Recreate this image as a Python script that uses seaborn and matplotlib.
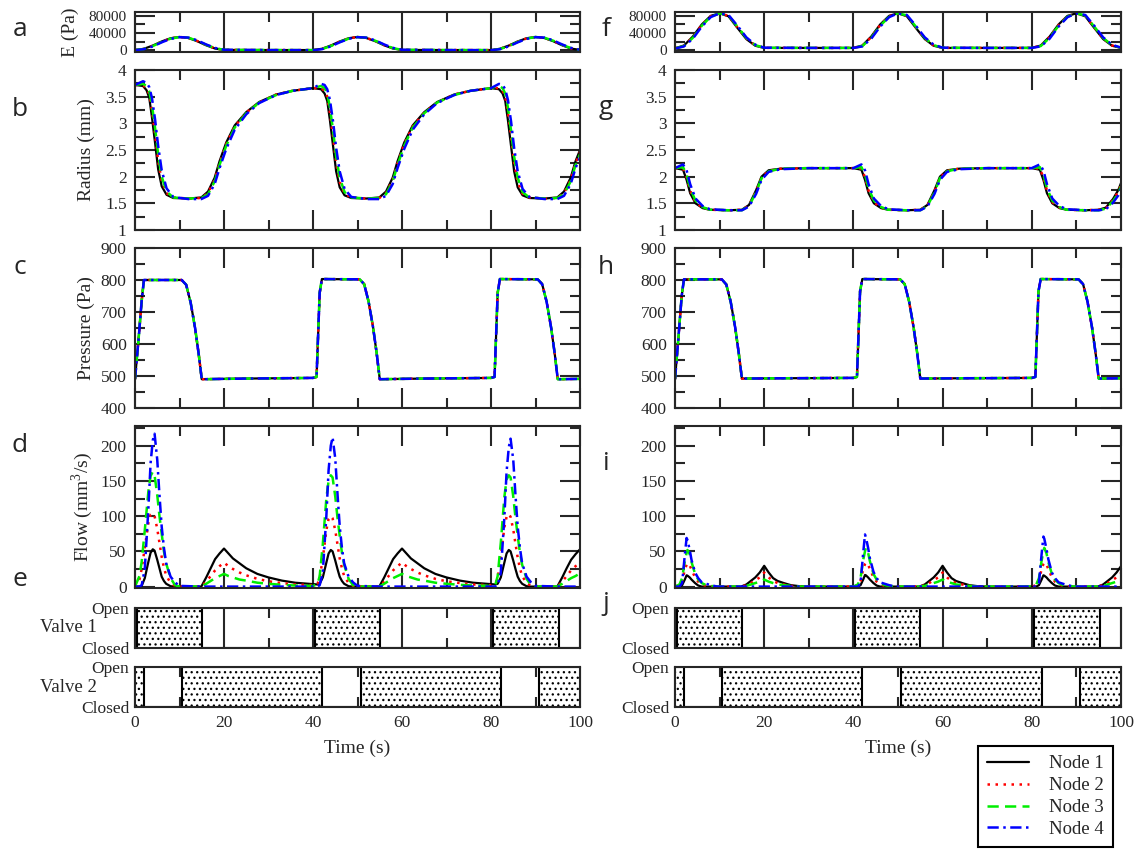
import matplotlib
matplotlib.use("Agg")
import matplotlib.pyplot as plt
from matplotlib.lines import Line2D
from matplotlib.ticker import MultipleLocator, FormatStrFormatter
import seaborn as sns

# -------------------
# Data (time in s)
# -------------------
nodes = ["Node 1", "Node 2", "Node 3", "Node 4"]

# E (Pa)
t_E = [0, 2, 4, 6, 8, 10, 12, 14, 16, 18, 20, 30,
       40, 42, 44, 46, 48, 50, 52, 54, 56, 58, 60, 70,
       80, 82, 84, 86, 88, 90, 92, 94, 96, 98, 100]
E_left_1 = [500, 3500, 11000, 20500, 28000, 31000, 28500, 21000, 11500, 4000, 800, 500,
            500, 3500, 11000, 20500, 28000, 31000, 28500, 21000, 11500, 4000, 800, 500,
            500, 3500, 11000, 20500, 28000, 31000, 28500, 21000, 11500, 4000, 800]
E_left_2 = [450, 3200, 10400, 19900, 27600, 31000, 28800, 21600, 12100, 4400, 900, 500,
            450, 3200, 10400, 19900, 27600, 31000, 28800, 21600, 12100, 4400, 900, 500,
            450, 3200, 10400, 19900, 27600, 31000, 28800, 21600, 12100, 4400, 900]
E_left_3 = [400, 2900, 9800, 19300, 27100, 30800, 29100, 22200, 12700, 4900, 1000, 500,
            400, 2900, 9800, 19300, 27100, 30800, 29100, 22200, 12700, 4900, 1000, 500,
            400, 2900, 9800, 19300, 27100, 30800, 29100, 22200, 12700, 4900, 1000]
E_left_4 = [300, 2500, 9000, 18500, 26500, 30500, 29500, 23000, 13500, 5500, 1200, 500,
            300, 2500, 9000, 18500, 26500, 30500, 29500, 23000, 13500, 5500, 1200, 500,
            300, 2500, 9000, 18500, 26500, 30500, 29500, 23000, 13500, 5500, 1200]
E_right_1 = [4500, 11000, 32000, 60000, 80000, 86000, 79000, 52000, 26000, 10500, 5500, 5500,
             5500, 11000, 32000, 60000, 80000, 86000, 79000, 52000, 26000, 10500, 5500, 5500,
             5500, 11000, 32000, 60000, 80000, 86000, 79000, 52000, 26000, 10500, 5500]
E_right_2 = [4400, 10500, 30500, 58500, 79000, 86000, 80000, 53500, 27500, 11200, 5600, 5500,
             5500, 10500, 30500, 58500, 79000, 86000, 80000, 53500, 27500, 11200, 5600, 5500,
             5500, 10500, 30500, 58500, 79000, 86000, 80000, 53500, 27500, 11200, 5600]
E_right_3 = [4200, 9800, 29000, 57000, 78000, 86000, 81000, 55000, 28500, 12000, 5800, 5500,
             5500, 9800, 29000, 57000, 78000, 86000, 81000, 55000, 28500, 12000, 5800, 5500,
             5500, 9800, 29000, 57000, 78000, 86000, 81000, 55000, 28500, 12000, 5800]
E_right_4 = [4000, 9000, 27000, 55000, 77000, 86000, 82000, 57000, 30000, 13000, 6000, 5500,
             5500, 9000, 27000, 55000, 77000, 86000, 82000, 57000, 30000, 13000, 6000, 5500,
             5500, 9000, 27000, 55000, 77000, 86000, 82000, 57000, 30000, 13000, 6000]

# Radius (mm)
t_R_left = [0, 1.8, 2.6, 3.2, 3.8, 4.5, 5.2, 6.0, 7.1, 8.6, 12, 14.9, 16.4, 17.9, 19.0, 20.5, 22.4, 25, 27.9, 31.7, 35.4,
            40, 41.8, 42.6, 43.2, 43.8, 44.5, 45.2, 46.0, 47.1, 48.6, 52, 54.9, 56.4, 57.9, 59.0, 60.5, 62.4, 65, 67.9, 71.7, 75.4,
            80, 81.8, 82.6, 83.2, 83.8, 84.5, 85.2, 86.0, 87.1, 88.6, 92, 94.9, 96.4, 97.9, 99.0, 100]
R_left_1 = [3.72, 3.70, 3.62, 3.48, 3.12, 2.64, 2.14, 1.82, 1.66, 1.60, 1.59, 1.61, 1.72, 1.98, 2.29, 2.64, 2.96, 3.21, 3.40, 3.54, 3.61,
            3.66, 3.64, 3.56, 3.42, 3.06, 2.58, 2.10, 1.80, 1.65, 1.60, 1.59, 1.61, 1.72, 1.98, 2.29, 2.64, 2.96, 3.21, 3.40, 3.54, 3.61,
            3.66, 3.64, 3.56, 3.42, 3.06, 2.58, 2.10, 1.80, 1.65, 1.60, 1.59, 1.61, 1.72, 1.98, 2.29, 2.50]
R_left_2 = [3.72, 3.71, 3.66, 3.55, 3.25, 2.80, 2.30, 1.92, 1.69, 1.61, 1.59, 1.60, 1.69, 1.94, 2.25, 2.61, 2.94, 3.20, 3.39, 3.54, 3.61,
            3.66, 3.66, 3.61, 3.50, 3.20, 2.75, 2.26, 1.90, 1.68, 1.61, 1.59, 1.60, 1.69, 1.94, 2.25, 2.61, 2.94, 3.20, 3.39, 3.54, 3.61,
            3.66, 3.66, 3.61, 3.50, 3.20, 2.75, 2.26, 1.90, 1.68, 1.61, 1.59, 1.60, 1.69, 1.94, 2.25, 2.46]
R_left_3 = [3.72, 3.74, 3.70, 3.60, 3.35, 2.92, 2.42, 2.00, 1.72, 1.61, 1.59, 1.60, 1.67, 1.91, 2.22, 2.58, 2.92, 3.19, 3.39, 3.53, 3.61,
            3.66, 3.70, 3.66, 3.56, 3.30, 2.87, 2.38, 1.98, 1.71, 1.61, 1.59, 1.60, 1.67, 1.91, 2.22, 2.58, 2.92, 3.19, 3.39, 3.53, 3.61,
            3.66, 3.70, 3.66, 3.56, 3.30, 2.87, 2.38, 1.98, 1.71, 1.61, 1.59, 1.60, 1.67, 1.91, 2.22, 2.42]
R_left_4 = [3.72, 3.79, 3.76, 3.68, 3.48, 3.08, 2.58, 2.12, 1.78, 1.62, 1.58, 1.58, 1.64, 1.86, 2.16, 2.52, 2.88, 3.17, 3.38, 3.53, 3.61,
            3.66, 3.74, 3.72, 3.64, 3.44, 3.04, 2.54, 2.10, 1.77, 1.62, 1.58, 1.58, 1.64, 1.86, 2.16, 2.52, 2.88, 3.17, 3.38, 3.53, 3.61,
            3.66, 3.74, 3.72, 3.64, 3.44, 3.04, 2.54, 2.10, 1.77, 1.62, 1.58, 1.58, 1.64, 1.86, 2.16, 2.36]

t_R_right = [0, 1.8, 2.6, 3.4, 4.6, 6.2, 7.8, 12, 15, 16.6, 18.2, 19.4, 21, 23.7, 30,
             40, 41.8, 42.6, 43.4, 44.6, 46.2, 47.8, 52, 55, 56.6, 58.2, 59.4, 61, 63.7, 70,
             80, 81.8, 82.6, 83.4, 84.6, 86.2, 87.8, 92, 95, 96.6, 98.2, 99.4, 100]
R_right_1 = [2.16, 2.13, 1.94, 1.69, 1.50, 1.41, 1.38, 1.37, 1.38, 1.47, 1.75, 2.00, 2.12, 2.15, 2.16,
             2.16, 2.13, 1.94, 1.69, 1.50, 1.41, 1.38, 1.37, 1.38, 1.47, 1.75, 2.00, 2.12, 2.15, 2.16,
             2.16, 2.13, 1.94, 1.69, 1.50, 1.41, 1.38, 1.37, 1.38, 1.42, 1.58, 1.75, 1.88]
R_right_2 = [2.16, 2.15, 1.99, 1.74, 1.52, 1.42, 1.38, 1.37, 1.38, 1.46, 1.73, 1.98, 2.11, 2.15, 2.16,
             2.16, 2.15, 1.99, 1.74, 1.52, 1.42, 1.38, 1.37, 1.38, 1.46, 1.73, 1.98, 2.11, 2.15, 2.16,
             2.16, 2.15, 1.99, 1.74, 1.52, 1.42, 1.38, 1.37, 1.38, 1.41, 1.56, 1.72, 1.85]
R_right_3 = [2.16, 2.18, 2.04, 1.78, 1.55, 1.43, 1.38, 1.37, 1.37, 1.45, 1.71, 1.97, 2.10, 2.15, 2.16,
             2.16, 2.18, 2.04, 1.78, 1.55, 1.43, 1.38, 1.37, 1.37, 1.45, 1.71, 1.97, 2.10, 2.15, 2.16,
             2.16, 2.18, 2.04, 1.78, 1.55, 1.43, 1.38, 1.37, 1.37, 1.40, 1.54, 1.69, 1.82]
R_right_4 = [2.16, 2.23, 2.12, 1.86, 1.59, 1.45, 1.39, 1.37, 1.37, 1.44, 1.68, 1.94, 2.09, 2.14, 2.16,
             2.16, 2.23, 2.12, 1.86, 1.59, 1.45, 1.39, 1.37, 1.37, 1.44, 1.68, 1.94, 2.09, 2.14, 2.16,
             2.16, 2.23, 2.12, 1.86, 1.59, 1.45, 1.39, 1.37, 1.37, 1.39, 1.51, 1.65, 1.78]

# Pressure (Pa) - the four nodes lie on top of each other
t_P = [0, 0.8, 1.5, 2, 10.5, 11.5, 12.5, 13.5, 14.3, 15, 25,
       40, 40.8, 41.5, 42, 50.5, 51.5, 52.5, 53.5, 54.3, 55, 65,
       80, 80.8, 81.5, 82, 90.5, 91.5, 92.5, 93.5, 94.3, 95, 100]
P_left = [490, 615, 735, 800, 800, 785, 730, 650, 570, 490, 492,
          494, 497, 760, 803, 802, 787, 732, 652, 572, 490, 492,
          494, 497, 760, 803, 802, 787, 732, 652, 572, 490, 491]
P_right = [490, 625, 750, 802, 802, 786, 731, 651, 571, 492, 493,
           494, 497, 765, 803, 802, 787, 732, 652, 572, 492, 493,
           494, 497, 765, 803, 802, 787, 732, 652, 572, 492, 493]

# Flow (mm^3/s)
t_Q_left = [0, 1, 1.5, 2.2, 3, 3.5, 4, 4.4, 5, 5.5, 6, 6.5, 7, 8, 9, 10, 14.9, 16, 17, 18, 19, 20, 21, 22, 23.5, 25, 27.5, 30, 33, 36,
            40, 41, 41.5, 42.2, 43, 43.5, 44, 44.4, 45, 45.5, 46, 46.5, 47, 48, 49, 50, 54.9, 56, 57, 58, 59, 60, 61, 62, 63.5, 65, 67.5, 70, 73, 76,
            80, 81, 81.5, 82.2, 83, 83.5, 84, 84.4, 85, 85.5, 86, 86.5, 87, 88, 89, 90, 94.9, 96, 97, 98, 99, 100]
Q_left_1 = [0, 0, 1, 12, 35, 48, 53, 51, 38, 26, 14, 8, 4, 0.5, 0, 0, 0, 13, 26, 39, 47, 54, 47, 40, 33, 26, 18, 13, 8.5, 5.5,
            3.5, 3, 4, 13, 34, 47, 52, 50, 37, 25, 14, 8, 4, 0.5, 0, 0, 0, 13, 26, 39, 47, 54, 47, 40, 33, 26, 18, 13, 8.5, 5.5,
            3.5, 3, 4, 13, 34, 47, 52, 50, 37, 25, 14, 8, 4, 0.5, 0, 0, 0, 13, 26, 38, 46, 53]
Q_left_2 = [0, 10, 25, 55, 90, 102, 104, 100, 82, 62, 42, 27, 16, 5, 1, 0, 0, 7, 15, 23, 29, 34, 29, 25, 20, 16, 11, 7.5, 5, 3,
            2, 4, 12, 40, 80, 96, 100, 97, 80, 60, 40, 26, 15, 5, 1, 0, 0, 7, 15, 23, 29, 34, 29, 25, 20, 16, 11, 7.5, 5, 3,
            2, 4, 12, 42, 84, 99, 103, 99, 81, 61, 41, 26, 15, 5, 1, 0, 0, 7, 15, 23, 29, 33]
Q_left_3 = [0, 15, 35, 80, 135, 157, 163, 158, 130, 100, 75, 50, 33, 12, 2, 0, 0, 4, 8, 12, 15, 18, 15, 13, 10, 8.5, 5.5, 4, 2.5, 1.5,
            1, 3, 15, 60, 125, 150, 158, 155, 128, 98, 72, 48, 31, 11, 2, 0, 0, 4, 8, 12, 15, 18, 15, 13, 10, 8.5, 5.5, 4, 2.5, 1.5,
            1, 3, 15, 62, 127, 152, 158, 155, 128, 98, 72, 48, 31, 11, 2, 0, 0, 4, 8, 12, 15, 19]
Q_left_4 = [0, 0, 2, 25, 110, 175, 208, 217, 180, 130, 85, 55, 33, 14, 6, 1, 0, 0, 0, 0, 0, 0, 0, 0, 0, 0, 0, 0, 0, 0,
            0, 0, 2, 20, 100, 165, 200, 212, 182, 132, 86, 55, 33, 14, 6, 1, 0, 0, 0, 0, 0, 0, 0, 0, 0, 0, 0, 0, 0, 0,
            0, 0, 2, 20, 98, 163, 198, 210, 180, 130, 85, 55, 33, 14, 6, 1, 0, 0, 0, 0, 0, 0]

t_Q_right = [0, 1, 1.6, 2.2, 2.6, 2.8, 3.3, 3.7, 4.5, 5.2, 6, 7, 8, 9.5, 14.8, 16, 17, 18, 19, 20, 21, 22, 23, 24.4, 26, 28, 30,
             40, 41, 41.6, 42.2, 42.6, 42.8, 43.3, 43.7, 44.5, 45.2, 46, 47, 48, 49.5, 54.8, 56, 57, 58, 59, 60, 61, 62, 63, 64.4, 66, 68, 70,
             80, 81, 81.6, 82.2, 82.6, 82.8, 83.3, 83.7, 84.5, 85.2, 86, 87, 88, 89.5, 94.8, 96, 97, 98, 99, 100]
Q_right_1 = [0, 0, 2, 10, 16, 15.5, 13, 10, 5, 1.5, 0, 0, 0, 0, 0, 3, 8, 13, 20, 29.5, 20, 12, 8, 5, 2, 0.5, 0,
             0, 0, 2, 10, 16.5, 16, 13, 10, 5, 1.5, 0, 0, 0, 0, 0, 3, 8, 13, 20, 29.5, 20, 12, 8, 5, 2, 0.5, 0,
             0, 0, 2, 10, 16, 15.5, 13, 10, 5, 1.5, 0, 0, 0, 0, 0, 3, 8, 13, 20, 29]
Q_right_2 = [0, 2, 8, 24, 31, 33, 30, 24, 13, 7, 3, 1, 0, 0, 0, 2, 5, 9, 13, 20, 13, 8, 5, 3, 1, 0, 0,
             0, 2, 8, 25, 32, 34, 31, 25, 13, 7, 3, 1, 0, 0, 0, 2, 5, 9, 13, 20, 13, 8, 5, 3, 1, 0, 0,
             0, 2, 8, 25, 32, 34, 31, 25, 13, 7, 3, 1, 0, 0, 0, 2, 5, 9, 13, 19]
Q_right_3 = [0, 3, 12, 36, 48, 52, 46, 35, 18, 10, 5, 2, 1, 0, 0, 1, 3, 5, 7, 10, 7, 5, 3, 2, 1, 0, 0,
             0, 3, 12, 38, 50, 55, 48, 36, 18, 10, 5, 2, 1, 0, 0, 1, 3, 5, 7, 10, 7, 5, 3, 2, 1, 0, 0,
             0, 3, 12, 37, 50, 55, 47, 35, 18, 10, 5, 2, 1, 0, 0, 1, 3, 5, 7, 10]
Q_right_4 = [0, 0, 5, 45, 69, 66, 52, 38, 20, 12, 6, 4, 2, 0, 0, 0, 0, 0, 0, 0, 0, 0, 0, 0, 0, 0, 0,
             0, 0, 5, 48, 74, 70, 55, 40, 21, 12, 6, 4, 2, 0, 0, 0, 0, 0, 0, 0, 0, 0, 0, 0, 0, 0, 0,
             0, 0, 5, 46, 71, 68, 53, 39, 20, 12, 6, 4, 2, 0, 0, 0, 0, 0, 0, 0]

# Valve states (1 = open, step changes at these times)
valve1_t = [0, 0.4, 15, 40.4, 55, 80.5, 95.2, 100]
valve1_state = [0, 1, 0, 1, 0, 1, 0, 0]
valve2_t = [0, 2, 10.6, 42, 50.7, 82.2, 90.7, 100]
valve2_state = [1, 0, 1, 0, 1, 0, 1, 1]

# -------------------
# Style
# -------------------
sns.set_style("ticks")
plt.rcParams['font.family'] = ['Liberation Serif', 'DejaVu Serif']
plt.rcParams['mathtext.fontset'] = 'custom'
plt.rcParams['mathtext.rm'] = 'Liberation Serif'
plt.rcParams['hatch.color'] = 'black'
plt.rcParams['hatch.linewidth'] = 0.9

node_styles = [
    dict(color='black', linestyle='-', linewidth=1.6),
    dict(color='#ff0000', linestyle=(0, (1, 2.2)), linewidth=1.8),
    dict(color='#00ee00', linestyle=(0, (4.5, 2.5)), linewidth=1.8),
    dict(color='#0000ff', linestyle=(0, (4.5, 1.8, 1, 1.8)), linewidth=1.8),
]

fig = plt.figure(figsize=(11.4, 8.5), dpi=100)


def px_axes(x0, x1, y0, y1):
    return fig.add_axes([x0 / 1140, 1 - y1 / 850, (x1 - x0) / 1140, (y1 - y0) / 850])


def style_axis(ax, ylim, major, minor, labelsize=12.5, show_x=False):
    ax.set_xlim(0, 100)
    ax.set_ylim(*ylim)
    ax.xaxis.set_major_locator(MultipleLocator(20))
    ax.xaxis.set_minor_locator(MultipleLocator(10))
    if major is not None:
        ax.yaxis.set_major_locator(MultipleLocator(major))
        ax.yaxis.set_minor_locator(MultipleLocator(minor))
        ax.yaxis.set_major_formatter(FormatStrFormatter('%g'))
    ax.tick_params(which='both', direction='in', top=True, right=True, width=1.5)
    ax.tick_params(which='major', length=14.4)
    ax.tick_params(which='minor', length=7.2)
    ax.tick_params(axis='y', labelsize=labelsize, pad=6)
    ax.tick_params(axis='x', labelsize=12.5, labelbottom=show_x, pad=6)
    for s in ax.spines.values():
        s.set_linewidth(1.5)
    ax.set_xlabel('')
    ax.set_ylabel('')


def draw_nodes(ax, t, series):
    for vals, st in zip(series, node_styles):
        sns.lineplot(x=t, y=vals, ax=ax, estimator=None, sort=False, legend=False, **st)


def draw_valve(ax, t, state):
    ax.fill_between(t, 0, state, step='post', facecolor='white', edgecolor='black',
                    hatch='...', linewidth=0)
    ax.step(t, state, where='post', color='black', linewidth=1.5)
    ax.set_yticks([0, 1])
    ax.set_yticklabels(['Closed', 'Open'])


cols = [(135, 580), (675, 1121)]
rows = {'E': (12, 52), 'R': (70, 230), 'P': (248, 408), 'Q': (426, 588),
        'V1': (608, 648), 'V2': (667, 707)}

panel_data = [
    dict(E=[E_left_1, E_left_2, E_left_3, E_left_4],
         tR=t_R_left, R=[R_left_1, R_left_2, R_left_3, R_left_4],
         P=[P_left] * 4,
         tQ=t_Q_left, Q=[Q_left_1, Q_left_2, Q_left_3, Q_left_4]),
    dict(E=[E_right_1, E_right_2, E_right_3, E_right_4],
         tR=t_R_right, R=[R_right_1, R_right_2, R_right_3, R_right_4],
         P=[P_right] * 4,
         tQ=t_Q_right, Q=[Q_right_1, Q_right_2, Q_right_3, Q_right_4]),
]

for ci, ((x0, x1), d) in enumerate(zip(cols, panel_data)):
    axE = px_axes(x0, x1, *rows['E'])
    draw_nodes(axE, t_E, d['E'])
    style_axis(axE, (-4000, 89000), 40000, 20000, labelsize=11)

    axR = px_axes(x0, x1, *rows['R'])
    draw_nodes(axR, d['tR'], d['R'])
    style_axis(axR, (1, 4), 0.5, 0.25)

    axP = px_axes(x0, x1, *rows['P'])
    draw_nodes(axP, t_P, d['P'])
    style_axis(axP, (400, 900), 100, 50)

    axQ = px_axes(x0, x1, *rows['Q'])
    draw_nodes(axQ, d['tQ'], d['Q'])
    style_axis(axQ, (-2, 228), 50, 25)

    axV1 = px_axes(x0, x1, *rows['V1'])
    draw_valve(axV1, valve1_t, valve1_state)
    style_axis(axV1, (0, 1), None, None)
    axV1.tick_params(axis='y', which='both', length=0, pad=4)

    axV2 = px_axes(x0, x1, *rows['V2'])
    draw_valve(axV2, valve2_t, valve2_state)
    style_axis(axV2, (0, 1), None, None, show_x=True)
    axV2.tick_params(axis='y', which='both', length=0, pad=4)
    axV2.set_xlabel('Time (s)', fontsize=14, labelpad=6)

    if ci == 0:
        axE.set_ylabel('E (Pa)', fontsize=14)
        axE.yaxis.set_label_coords(-0.125, 0.5)
        axR.set_ylabel('Radius (mm)', fontsize=14)
        axP.set_ylabel('Pressure (Pa)', fontsize=14)
        axQ.set_ylabel(r'Flow (mm$^{\mathregular{3}}$/s)', fontsize=14)
        for ax in (axR, axP, axQ):
            ax.yaxis.set_label_coords(-0.09, 0.5)
        fig.text(68 / 1140, 1 - 628 / 850, 'Valve 1', ha='center', va='center', fontsize=13.5)
        fig.text(68 / 1140, 1 - 687 / 850, 'Valve 2', ha='center', va='center', fontsize=13.5)

# Panel letters
letters = [('a', 20, 29), ('b', 20, 110), ('c', 20, 268), ('d', 20, 445), ('e', 20, 580),
           ('f', 606, 29), ('g', 606, 108), ('h', 606, 268), ('i', 606, 463), ('j', 606, 603)]
for s, x, y in letters:
    fig.text(x / 1140, 1 - y / 850, s, ha='center', va='center', fontsize=19, family='Open Sans')

# Legend
handles = [Line2D([], [], **st) for st in node_styles]
leg = fig.legend(handles, nodes, loc='upper left', bbox_to_anchor=(978 / 1140, 1 - 746 / 850),
                 borderaxespad=0, fontsize=13.5, handlelength=2.2, handletextpad=1.1,
                 labelspacing=0.25, borderpad=0.5, fancybox=False, framealpha=1,
                 edgecolor='black')
leg.get_frame().set_linewidth(1.5)

fig.savefig("out.png", dpi=100)
